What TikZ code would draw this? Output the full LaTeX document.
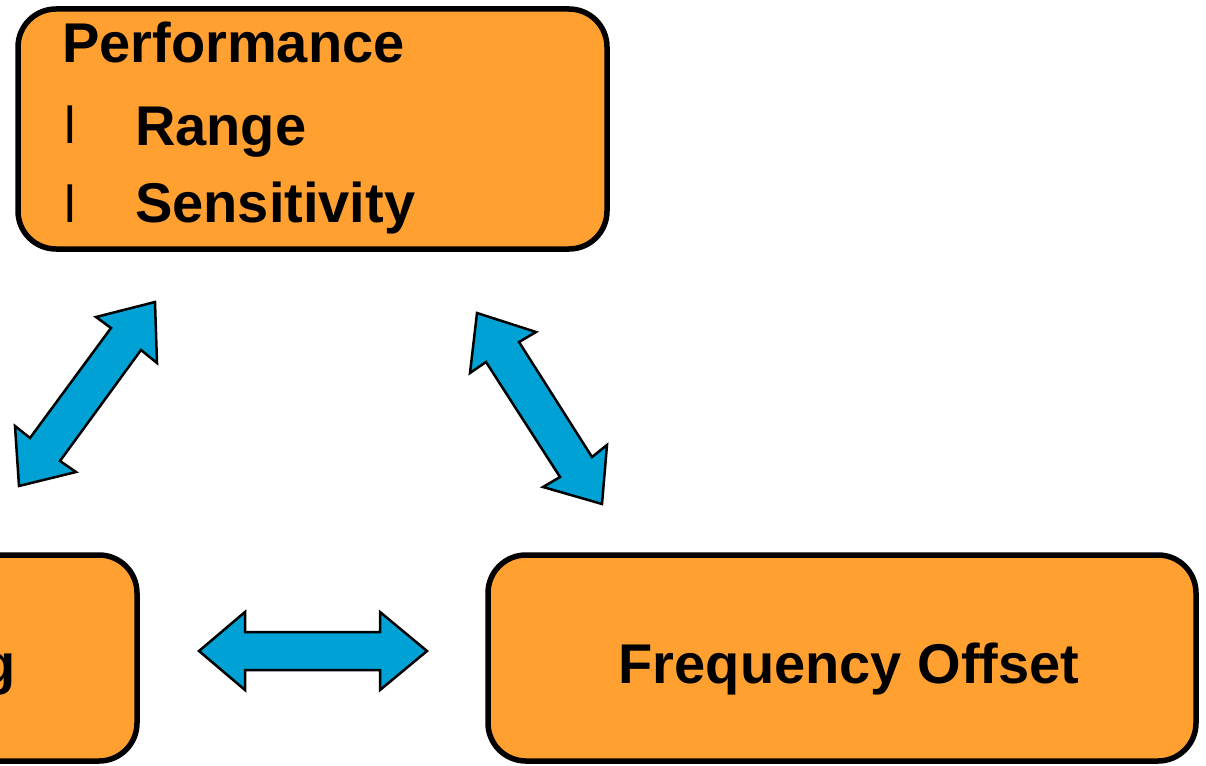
\documentclass[tikz,border=0pt]{standalone}
\usepackage{fontspec}
\setmainfont{Liberation Sans}
\begin{document}
\begin{tikzpicture}[x=1pt,y=-1pt,
  box/.style={draw=black,line width=5.5pt,fill=boxorange,rounded corners=38pt},
  blockarrow/.style={draw=black,line width=2.5pt,fill=arrowblue,line join=miter},
  label/.style={inner sep=0pt,font=\fontsize{56}{67}\selectfont\bfseries},
  bullet/.style={inner sep=0pt,font=\fontsize{52}{62}\selectfont}]
\definecolor{boxorange}{RGB}{255,160,48}
\definecolor{arrowblue}{RGB}{0,162,214}
\useasboundingbox (0,0) rectangle (1206,765);

% boxes
\draw[box] (18,9) rectangle (607,249);
\draw[box] (-300,555) rectangle (137,761);
\draw[box] (488,555) rectangle (1196,761);

% texts
\node[label,anchor=base west] (perf) at (62,63) {Performance};
\node[bullet,anchor=base west] (b1) at (64,143) {l};
\node[label,anchor=base west] (range) at (135,145) {Range};
\node[bullet,anchor=base west] (b2) at (64,222) {l};
\node[label,anchor=base west] (sens) at (135,222) {Sensitivity};
\node[label,anchor=base east] (lefttxt) at (16,683) {g};
\node[label,anchor=base] (freq) at (849,683) {Frequency Offset};

% double block arrows
\draw[blockarrow] (155,302) -- (157,363) -- (141,350) -- (60,461) -- (76,472)
  -- (19,486) -- (15,426) -- (30,438) -- (111,328) -- (96,317) -- cycle;
\draw[blockarrow] (477,313) -- (536,332) -- (519,342) -- (592,457) -- (607,445)
  -- (602,504) -- (543,487) -- (560,477) -- (486,362) -- (470,373) -- cycle;
\draw[blockarrow] (199,651) -- (245,612) -- (245,632) -- (380,632) -- (380,612)
  -- (427,651) -- (380,690) -- (380,670) -- (245,670) -- (245,690) -- cycle;
\end{tikzpicture}
\end{document}
